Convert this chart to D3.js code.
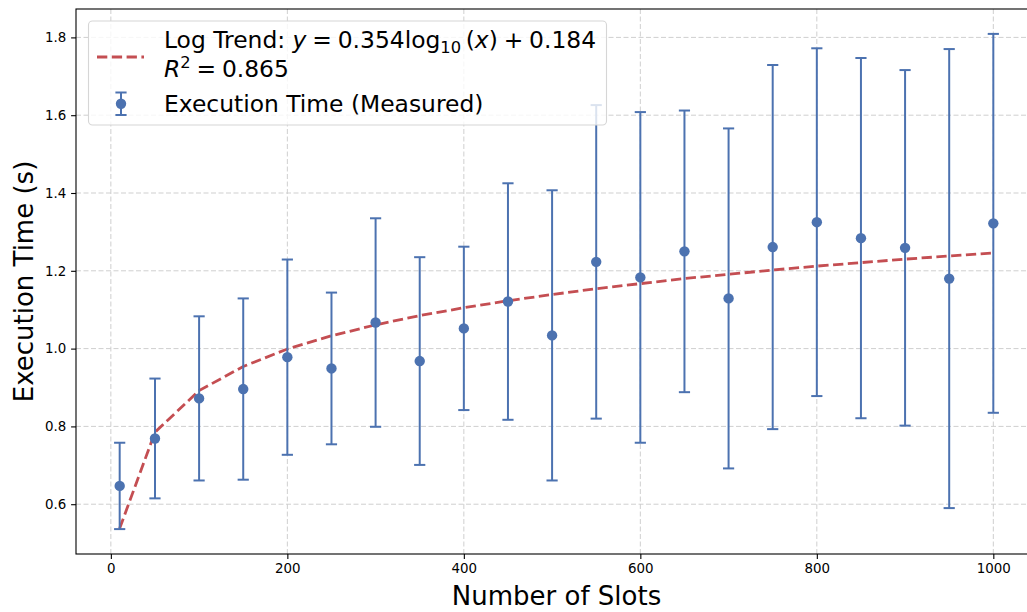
<!DOCTYPE html>
<html>
<head>
<meta charset="utf-8">
<script src="https://cdn.jsdelivr.net/npm/d3@7"></script>
<style>
    body { margin: 0; background: #fff; }
    text { font-family: "DejaVu Sans", sans-serif; }
</style>
</head>
<body>
<div id="container"></div>
<script>
const slots = [10, 50, 100, 150, 200, 250, 300, 350, 400, 450, 500, 550, 600, 650, 700, 750, 800, 850, 900, 950, 1000];
const execMean = [0.647, 0.769, 0.872, 0.896, 0.978, 0.949, 1.067, 0.968, 1.052, 1.121, 1.034, 1.223, 1.183, 1.250, 1.129, 1.261, 1.325, 1.284, 1.259, 1.180, 1.322];
const execErr = [0.111, 0.154, 0.211, 0.233, 0.251, 0.195, 0.268, 0.267, 0.210, 0.304, 0.373, 0.403, 0.425, 0.362, 0.437, 0.468, 0.447, 0.463, 0.457, 0.590, 0.487];
// fitted log trend, read at the same slot values
const trendValues = [0.538, 0.785, 0.892, 0.954, 0.999, 1.033, 1.061, 1.085, 1.105, 1.123, 1.139, 1.154, 1.167, 1.180, 1.191, 1.202, 1.212, 1.221, 1.230, 1.238, 1.246];
const xTicks = [0, 200, 400, 600, 800, 1000];
const yTicks = [0.6, 0.8, 1.0, 1.2, 1.4, 1.6, 1.8];

const width = 1027;
const height = 612;
const margin = { left: 76, top: 9, right: 1037, bottom: 554 };

const BLUE = '#4c72b0';
const RED = '#c44e52';

const svg = d3.select('#container').append('svg')
    .attr('width', width)
    .attr('height', height)
    .attr('viewBox', `0 0 ${width} ${height}`);

const x = d3.scaleLinear().domain([-39.5, 1049.5]).range([margin.left, margin.right]);
const y = d3.scaleLinear().domain([0.472, 1.873]).range([margin.bottom, margin.top]);

// grid
const grid = svg.append('g')
    .attr('stroke', '#cfcfcf')
    .attr('stroke-width', 1)
    .attr('stroke-dasharray', '5,2.5');
grid.selectAll('.gx').data(xTicks).join('line')
    .attr('x1', d => x(d)).attr('x2', d => x(d))
    .attr('y1', margin.top).attr('y2', margin.bottom);
grid.selectAll('.gy').data(yTicks).join('line')
    .attr('y1', d => y(d)).attr('y2', d => y(d))
    .attr('x1', margin.left).attr('x2', margin.right);

let data = slots.map((s, i) => ({ x: s, mean: execMean[i], err: execErr[i], trend: trendValues[i] }));

// trend line
svg.append('path')
    .datum(data)
    .attr('fill', 'none')
    .attr('stroke', RED)
    .attr('stroke-width', 2.8)
    .attr('stroke-dasharray', '10.3,4.5')
    .attr('d', d3.line().x(d => x(d.x)).y(d => y(d.trend)));

// error bars
let bars = svg.append('g')
    .attr('stroke', BLUE)
    .attr('stroke-width', 2)
    .selectAll('g')
    .data(data)
    .join('g');

bars.append('line')
    .attr('x1', d => x(d.x)).attr('x2', d => x(d.x))
    .attr('y1', d => y(d.mean - d.err)).attr('y2', d => y(d.mean + d.err));
bars.append('line')
    .attr('x1', d => x(d.x) - 5.6).attr('x2', d => x(d.x) + 5.6)
    .attr('y1', d => y(d.mean + d.err)).attr('y2', d => y(d.mean + d.err));
bars.append('line')
    .attr('x1', d => x(d.x) - 5.6).attr('x2', d => x(d.x) + 5.6)
    .attr('y1', d => y(d.mean - d.err)).attr('y2', d => y(d.mean - d.err));

svg.append('g')
    .selectAll('circle')
    .data(data)
    .join('circle')
    .attr('cx', d => x(d.x))
    .attr('cy', d => y(d.mean))
    .attr('r', 5.2)
    .attr('fill', BLUE);

// axes
let xAxis = svg.append('g')
    .attr('transform', `translate(0,${margin.bottom})`)
    .call(d3.axisBottom(x).tickValues(xTicks).tickFormat(d3.format('d')).tickSize(4.9).tickPadding(4.9).tickSizeOuter(0));
let yAxis = svg.append('g')
    .attr('transform', `translate(${margin.left},0)`)
    .call(d3.axisLeft(y).tickValues(yTicks).tickFormat(d3.format('.1f')).tickSize(4.9).tickPadding(4.9).tickSizeOuter(0));

[xAxis, yAxis].forEach(a => {
    a.select('.domain').remove();
    a.selectAll('.tick line').attr('stroke', '#000').attr('stroke-width', 1.1);
    a.selectAll('.tick text')
        .attr('fill', '#000')
        .style('font-family', '"DejaVu Sans", sans-serif')
        .style('font-size', '13.4px');
});

// spines
svg.append('rect')
    .attr('x', margin.left)
    .attr('y', margin.top)
    .attr('width', margin.right - margin.left)
    .attr('height', margin.bottom - margin.top)
    .attr('fill', 'none')
    .attr('stroke', '#000')
    .attr('stroke-width', 1.1);

svg.append('text')
    .attr('x', (margin.left + margin.right) / 2)
    .attr('y', 605)
    .attr('text-anchor', 'middle')
    .style('font-size', '26px')
    .text('Number of Slots');

svg.append('text')
    .attr('transform', `translate(33,${(margin.top + margin.bottom) / 2}) rotate(-90)`)
    .attr('text-anchor', 'middle')
    .style('font-size', '26px')
    .text('Execution Time (s)');

// legend
let legend = svg.append('g');
legend.append('rect')
    .attr('x', 88.5).attr('y', 21)
    .attr('width', 518).attr('height', 104)
    .attr('rx', 4)
    .attr('fill', 'rgba(255,255,255,0.8)')
    .attr('stroke', '#d6d6d6')
    .attr('stroke-width', 1.1);

legend.append('line')
    .attr('x1', 97).attr('x2', 144)
    .attr('y1', 57).attr('y2', 57)
    .attr('stroke', RED)
    .attr('stroke-width', 2.8)
    .attr('stroke-dasharray', '10.3,4.5');

let lg = legend.append('g').attr('stroke', BLUE).attr('stroke-width', 2);
lg.append('line').attr('x1', 121).attr('x2', 121).attr('y1', 92.5).attr('y2', 115);
lg.append('line').attr('x1', 115.4).attr('x2', 126.6).attr('y1', 92.5).attr('y2', 92.5);
lg.append('line').attr('x1', 115.4).attr('x2', 126.6).attr('y1', 115).attr('y2', 115);
legend.append('circle').attr('cx', 121).attr('cy', 103.7).attr('r', 5.2).attr('fill', BLUE);

const sp = '\u2005';
let t1 = legend.append('text').attr('x', 164).attr('y', 48.3).style('font-size', '23.4px');
t1.append('tspan').text('Log Trend: ');
t1.append('tspan').style('font-style', 'italic').text('y');
t1.append('tspan').text(sp + '=' + sp + '0.354log');
t1.append('tspan').attr('dy', 5).style('font-size', '16.3px').text('10');
t1.append('tspan').attr('dy', -5).text('\u2009(');
t1.append('tspan').style('font-style', 'italic').text('x');
t1.append('tspan').text(')' + sp + '+' + sp + '0.184');

let t2 = legend.append('text').attr('x', 164).attr('y', 77.3).style('font-size', '23.4px');
t2.append('tspan').style('font-style', 'italic').text('R');
t2.append('tspan').attr('dy', -9).style('font-size', '16.3px').text('2');
t2.append('tspan').attr('dy', 9).text(sp + '=' + sp + '0.865');

legend.append('text').attr('x', 164).attr('y', 111.7).style('font-size', '23.4px')
    .text('Execution Time (Measured)');
</script>
</body>
</html>
